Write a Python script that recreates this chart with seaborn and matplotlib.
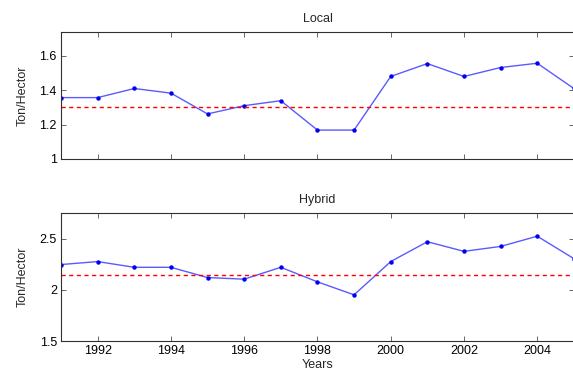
import matplotlib
matplotlib.use("Agg")
import matplotlib.pyplot as plt
import seaborn as sns
import pandas as pd

years = list(range(1991, 2006))
local_yield = [1.357, 1.357, 1.41, 1.383, 1.262, 1.31, 1.339, 1.168, 1.168,
               1.48, 1.555, 1.48, 1.532, 1.557, 1.41]
hybrid_yield = [2.248, 2.277, 2.221, 2.221, 2.121, 2.105, 2.221, 2.079, 1.952,
                2.277, 2.471, 2.377, 2.425, 2.525, 2.306]
local_ref = 1.3
hybrid_ref = 2.15
year_ticks = [1992, 1994, 1996, 1998, 2000, 2002, 2004]

sns.set_style("ticks")
plt.rcParams['font.family'] = ['Liberation Sans', 'DejaVu Sans']
plt.rcParams['font.size'] = 9

df = pd.DataFrame({'Year': years, 'Local': local_yield, 'Hybrid': hybrid_yield})

fig = plt.figure(figsize=(5.73, 3.74), dpi=100)
ax1 = fig.add_axes([0.1065, 0.575, 0.895, 0.340])
ax2 = fig.add_axes([0.1065, 0.088, 0.895, 0.342])

panels = [
    (ax1, 'Local', local_ref, (1, 1.74), [1, 1.2, 1.4, 1.6], ['1', '1.2', '1.4', '1.6']),
    (ax2, 'Hybrid', hybrid_ref, (1.5, 2.75), [1.5, 2, 2.5], ['1.5', '2', '2.5']),
]

for ax, name, ref, ylim, yt, ytl in panels:
    sns.lineplot(data=df, x='Year', y=name, ax=ax, color='#5a5aff', linewidth=1.0,
                 marker='o', markersize=3.2, markeredgewidth=0,
                 markerfacecolor='#0000ee')
    ax.axhline(ref, color='#ff0000', linestyle='--', linewidth=1.0, dashes=(3, 2.5))
    ax.set_xlim(1991, 2005)
    ax.set_ylim(*ylim)
    ax.set_xticks(year_ticks)
    ax.set_yticks(yt)
    ax.set_yticklabels(ytl)
    ax.set_title(name, fontsize=9, pad=7)
    ax.set_ylabel('Ton/Hector', fontsize=9, family=['Liberation Sans Narrow', 'Liberation Sans'],
                  labelpad=8)
    ax.tick_params(direction='in', top=True, right=True, length=3.5, width=0.6,
                   labelsize=9, colors='#505050', labelcolor='black', pad=3)
    for sp in ax.spines.values():
        sp.set_visible(True)
        sp.set_color('#303030')
        sp.set_linewidth(0.8)

ax1.set_xticklabels([])
ax1.set_xlabel('')
ax2.set_xticklabels([str(y) for y in year_ticks])
ax2.set_xlabel('Years', fontsize=9, labelpad=1)

fig.savefig('out.png', dpi=100)
